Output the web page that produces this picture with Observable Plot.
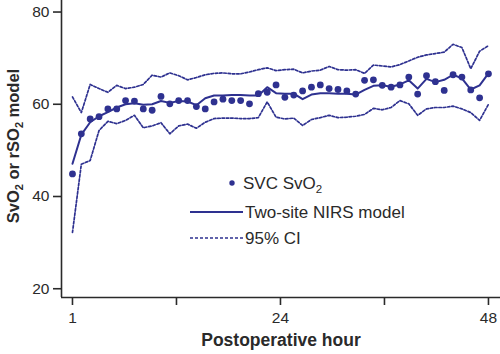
<!DOCTYPE html>
<html>
<head>
<meta charset="utf-8">
<script src="https://cdn.jsdelivr.net/npm/d3@7"></script>
<script src="https://cdn.jsdelivr.net/npm/@observablehq/plot@0.6"></script>
<style>
  html, body { margin: 0; padding: 0; background: #fff; }
  #chart { width: 500px; height: 354px; }
  svg { font-family: "Liberation Sans", Arial, sans-serif; }
</style>
</head>
<body>
<div id="chart"></div>
<script>
// ---- data ----
const hours = d3.range(1, 49);
const svcSvO2 = [44.9, 53.6, 56.8, 57.3, 59.0, 59.0, 60.8, 60.7, 59.0, 58.7,
                 61.7, 60.1, 60.8, 60.8, 59.5, 59.0, 60.5, 61.1, 60.8, 60.8,
                 60.1, 62.3, 62.6, 64.2, 61.5, 62.0, 62.9, 63.7, 64.2, 63.4,
                 63.2, 62.9, 62.2, 65.2, 65.3, 64.1, 63.7, 64.2, 65.9, 62.2,
                 66.2, 64.9, 63.0, 66.4, 65.9, 63.1, 61.4, 66.6];
const nirsModel = [47.1, 53.4, 56.1, 57.4, 58.3, 59.3, 60.0, 60.2, 59.9, 60.0,
                   60.7, 60.3, 60.7, 60.6, 59.8, 61.3, 61.9, 61.9, 62.0, 62.0,
                   61.9, 61.9, 63.7, 62.4, 62.3, 62.3, 61.1, 62.1, 62.4, 62.4,
                   62.3, 62.3, 62.1, 63.1, 64.0, 64.1, 63.8, 64.3, 65.2, 63.4,
                   65.5, 64.8, 65.3, 66.4, 65.6, 63.2, 64.1, 66.7];
const ciUpper = [61.6, 58.2, 64.3, 63.4, 62.6, 64.1, 63.4, 63.7, 64.3, 66.3,
                 65.9, 66.8, 66.2, 65.3, 65.8, 66.4, 66.7, 66.8, 66.6, 66.6,
                 67.0, 67.5, 67.9, 67.3, 67.5, 67.6, 66.8, 67.2, 67.4, 68.2,
                 67.5, 67.4, 67.5, 66.7, 68.5, 68.3, 68.1, 68.6, 69.4, 70.2,
                 70.7, 71.0, 71.3, 73.0, 72.3, 67.7, 71.5, 72.7];
const ciLower = [32.2, 47.0, 47.8, 54.3, 56.3, 55.8, 56.5, 57.6, 54.9, 55.3,
                 56.0, 53.6, 55.3, 55.7, 54.8, 56.1, 56.9, 57.0, 57.0, 56.9,
                 56.9, 57.1, 60.5, 57.2, 56.8, 57.0, 55.4, 56.7, 57.1, 57.6,
                 57.1, 57.2, 57.4, 57.8, 59.1, 58.8, 59.3, 60.8, 60.1, 57.6,
                 59.0, 59.3, 59.3, 59.6, 59.0, 58.2, 56.5, 60.0];
const xTicks = [1, 12.75, 24.5, 36.25, 48];
const xTickLabels = ["1", "", "24", "", "48"];
const yTicks = [20, 40, 60, 80];
const legendLabels = ["SVC SvO", "Two-site NIRS model", "95% CI"];

const color = "#2e3190";
const xDomain = [-0.24, 49.36];
const yDomain = [18.1, 82.5];

const rows = hours.map((h, i) => ({h, svc: svcSvO2[i], model: nirsModel[i], up: ciUpper[i], lo: ciLower[i]}));

const plot = Plot.plot({
  width: 500,
  height: 354,
  marginLeft: 61,
  marginRight: 0,
  marginTop: 0,
  marginBottom: 57,
  style: {fontFamily: "Liberation Sans, Arial, sans-serif", fontSize: "15.5px", color: "#2a2a2a", background: "#fff"},
  x: {domain: xDomain, ticks: xTicks, tickFormat: (d, i) => xTickLabels[xTicks.indexOf(d)], tickSize: 8, tickPadding: 6, label: null},
  y: {domain: yDomain, ticks: yTicks, tickSize: 8, tickPadding: 4, label: null},
  marks: [
    Plot.ruleX([xDomain[0]], {stroke: "#2a2a2a", strokeWidth: 1.6}),
    Plot.ruleY([yDomain[0]], {stroke: "#2a2a2a", strokeWidth: 1.6}),
    Plot.line(rows, {x: "h", y: "up", stroke: color, strokeWidth: 1.7, strokeDasharray: "2.5,1.8"}),
    Plot.line(rows, {x: "h", y: "lo", stroke: color, strokeWidth: 1.7, strokeDasharray: "2.5,1.8"}),
    Plot.line(rows, {x: "h", y: "model", stroke: color, strokeWidth: 2}),
    Plot.dot(rows, {x: "h", y: "svc", r: 3.4, fill: color, stroke: "none"})
  ]
});
document.getElementById("chart").appendChild(plot);

const svg = d3.select(plot);
svg.selectAll("g[aria-label='x-axis tick'] line, g[aria-label='y-axis tick'] line, g[aria-label='x-axis tick'] path, g[aria-label='y-axis tick'] path")
  .attr("stroke-width", 1.6).attr("stroke", "#2a2a2a");

// axis titles with real subscripts
svg.append("text")
  .attr("x", 281).attr("y", 346)
  .attr("text-anchor", "middle")
  .attr("font-weight", "bold").attr("font-size", 17.5).attr("fill", "#2a2a2a")
  .text("Postoperative hour");

const yt = svg.append("text")
  .attr("transform", "translate(19,146) rotate(-90)")
  .attr("text-anchor", "middle")
  .attr("font-weight", "bold").attr("font-size", 16.5).attr("fill", "#2a2a2a");
yt.append("tspan").text("SvO");
yt.append("tspan").attr("font-size", 11).attr("dy", 4).text("2");
yt.append("tspan").attr("dy", -4).text(" or rSO");
yt.append("tspan").attr("font-size", 11).attr("dy", 4).text("2");
yt.append("tspan").attr("dy", -4).text(" model");

// legend
const lg = svg.append("g").attr("fill", "#2a2a2a").attr("font-size", 17).attr("text-anchor", "start");
const lx = 190, ly = [183, 212, 238], tx = 245;
lg.append("circle").attr("cx", 232).attr("cy", ly[0]).attr("r", 2.7).attr("fill", color);
const t0 = lg.append("text").attr("x", tx - 2).attr("y", ly[0] + 6);
t0.append("tspan").text(legendLabels[0]);
t0.append("tspan").attr("font-size", 11.5).attr("dy", 4).text("2");
lg.append("line").attr("x1", lx).attr("x2", 243).attr("y1", ly[1]).attr("y2", ly[1]).attr("stroke", color).attr("stroke-width", 2);
lg.append("text").attr("x", tx).attr("y", ly[1] + 6).text(legendLabels[1]);
lg.append("line").attr("x1", lx).attr("x2", 243).attr("y1", ly[2]).attr("y2", ly[2]).attr("stroke", color).attr("stroke-width", 1.6).attr("stroke-dasharray", "3,2");
lg.append("text").attr("x", tx).attr("y", ly[2] + 6).text(legendLabels[2]);
</script>
</body>
</html>
